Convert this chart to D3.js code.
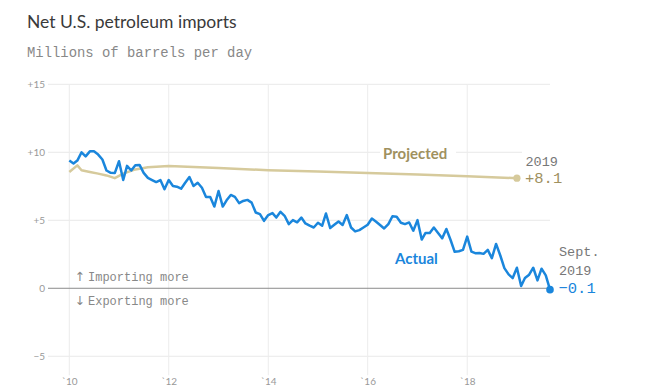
<!DOCTYPE html>
<html>
<head>
<meta charset="utf-8">
<script src="https://cdn.jsdelivr.net/npm/d3@7"></script>
<style>
  html, body { margin: 0; padding: 0; background: #fff; }
  svg { display: block; }
</style>
</head>
<body>
<svg id="chart" width="645" height="391"></svg>
<script>
// ---- Data ----
const actualStart = [2010, 1]; // first month of the actual series (monthly)
const actualValues = [
  9.39, 9.17, 9.39, 10.0, 9.7, 10.07, 10.07, 9.83, 9.47, 8.66, 8.49, 8.47,
  9.34, 7.96, 9.0, 8.66, 9.05, 9.07, 8.49, 8.12, 7.96, 7.81, 7.96, 7.28,
  7.96, 7.52, 7.47, 7.32, 7.76, 8.18, 7.52, 7.76, 7.39, 6.72, 6.72, 6.01,
  7.15, 6.01, 6.47, 6.86, 6.72, 6.26, 6.42, 6.5, 6.3, 5.57, 5.45, 4.96,
  5.38, 5.53, 5.2, 5.62, 5.33, 4.72, 5.01, 4.85, 5.2, 4.77, 4.6, 4.47,
  4.82, 4.6, 5.5, 4.43, 4.67, 4.91, 4.65, 5.38, 4.47, 4.18, 4.28, 4.47,
  4.67, 5.13, 4.91, 4.65, 4.4, 4.72, 5.3, 5.26, 4.82, 4.72, 4.84, 4.23,
  5.01, 3.58, 4.07, 4.07, 4.47, 4.07, 3.67, 4.36, 3.55, 2.68, 2.72, 2.82,
  3.8, 2.7, 2.58, 2.6, 2.53, 2.82, 2.21, 3.26, 2.41, 1.48, 1.02, 0.75,
  1.51, 0.17, 0.75, 1.0, 1.51, 0.58, 1.44, 0.95, -0.1
];
const projectedDates = [
  [2010, 1], [2010, 3], [2010, 4], [2010, 6], [2010, 8], [2010, 10], [2010, 12],
  [2011, 2], [2011, 5], [2011, 8], [2012, 1], [2013, 1], [2014, 1], [2015, 1],
  [2016, 1], [2017, 1], [2018, 1], [2019, 1]
];
const projectedValues = [
  8.55, 9.04, 8.68, 8.55, 8.43, 8.3, 8.1,
  8.43, 8.74, 8.9, 9.0, 8.85, 8.68, 8.58,
  8.48, 8.37, 8.23, 8.1
];
const yTicks = [15, 10, 5, 0, -5];
const yTickLabels = ["+15", "+10", "+5", "0", "\u22125"];
const xTickYears = [2010, 2012, 2014, 2016, 2018];
const xTickLabels = ["`10", "`12", "`14", "`16", "`18"];

// ---- Build series ----
const actual = actualValues.map((v, i) => ({
  date: new Date(actualStart[0], actualStart[1] - 1 + i, 1), value: v
}));
const projected = projectedDates.map((d, i) => ({
  date: new Date(d[0], d[1] - 1, 1), value: projectedValues[i]
}));

const svg = d3.select("#chart");
const blue = "#1a86dc";
const tan = "#d6ca9c";
const tanText = "#a0915f";
const gray = "#777";
const sans = "Lato, 'Open Sans', sans-serif";
const mono = "'Liberation Mono', 'DejaVu Sans Mono', monospace";

const x = d3.scaleTime()
  .domain([new Date(2010, 0, 1), new Date(2019, 8, 1)])
  .range([69.3, 550]);
const y = d3.scaleLinear().domain([-6.4, 15]).range([375.3, 84.3]);

const gridLeft = 48, gridRight = 550;

// horizontal gridlines
svg.append("g").selectAll("line").data(yTicks.filter(d => d !== 0)).join("line")
  .attr("x1", gridLeft).attr("x2", gridRight)
  .attr("y1", d => y(d)).attr("y2", d => y(d))
  .attr("stroke", "#e9e9e9").attr("stroke-width", 1);

// vertical gridlines
svg.append("g").selectAll("line").data(xTickYears).join("line")
  .attr("x1", d => x(new Date(d, 0, 1))).attr("x2", d => x(new Date(d, 0, 1)))
  .attr("y1", y(15)).attr("y2", y(-6.4))
  .attr("stroke", "#ececec").attr("stroke-width", 1);

// zero line
svg.append("line")
  .attr("x1", gridLeft).attr("x2", gridRight)
  .attr("y1", y(0)).attr("y2", y(0))
  .attr("stroke", "#8a8a8a").attr("stroke-width", 1);

// y axis labels
svg.append("g").selectAll("text").data(yTicks).join("text")
  .attr("x", 45).attr("y", d => y(d)).attr("dy", "0.34em")
  .attr("text-anchor", "end")
  .attr("font-family", sans)
  .attr("font-size", 10).attr("fill", "#999")
  .text((d, i) => yTickLabels[i]);

// x axis labels
svg.append("g").selectAll("text").data(xTickYears).join("text")
  .attr("x", d => x(new Date(d, 0, 1)) + 0.5).attr("y", 385)
  .attr("text-anchor", "middle")
  .attr("font-family", sans)
  .attr("font-size", 10).attr("fill", "#999")
  .text((d, i) => xTickLabels[i]);

// title & subtitle
svg.append("text").attr("x", 27).attr("y", 28)
  .attr("font-family", sans)
  .attr("font-size", 17.5).attr("fill", "#3a3a3a")
  .text("Net U.S. petroleum imports");
svg.append("text").attr("x", 27).attr("y", 56.5)
  .attr("font-family", mono)
  .attr("font-size", 13.9).attr("fill", "#888")
  .text("Millions of barrels per day");

// lines
const line = d3.line().x(d => x(d.date)).y(d => y(d.value)).curve(d3.curveLinear);

svg.append("path").datum(projected)
  .attr("d", line).attr("fill", "none")
  .attr("stroke", tan).attr("stroke-width", 2.5)
  .attr("stroke-linejoin", "round");

svg.append("path").datum(actual)
  .attr("d", line).attr("fill", "none")
  .attr("stroke", blue).attr("stroke-width", 2.5)
  .attr("stroke-linejoin", "round");

// end dots
const pEnd = projected[projected.length - 1];
const aEnd = actual[actual.length - 1];
svg.append("circle").attr("cx", x(pEnd.date)).attr("cy", y(pEnd.value))
  .attr("r", 3.6).attr("fill", tan);
svg.append("circle").attr("cx", x(aEnd.date)).attr("cy", y(aEnd.value))
  .attr("r", 3.8).attr("fill", blue);

// "Projected" label with white background
const projLabel = svg.append("g");
projLabel.append("rect").attr("x", 380).attr("y", 144).attr("width", 76).attr("height", 20)
  .attr("fill", "#fff");
projLabel.append("text").attr("x", 383).attr("y", 158.5)
  .attr("font-family", sans)
  .attr("font-weight", "bold")
  .attr("font-size", 15).attr("fill", tanText)
  .text("Projected");

// "Actual" label
svg.append("text").attr("x", 395).attr("y", 264)
  .attr("font-family", sans)
  .attr("font-weight", "bold")
  .attr("font-size", 15).attr("fill", blue)
  .text("Actual");

// projected end label
svg.append("rect").attr("x", 522).attr("y", 150).attr("width", 46).attr("height", 38).attr("fill", "#fff");
svg.append("text").attr("x", 525.5).attr("y", 165.5)
  .attr("font-family", mono).attr("font-size", 13.5).attr("fill", gray)
  .text("2019");
svg.append("text").attr("x", 525).attr("y", 183)
  .attr("font-family", mono).attr("font-size", 15.5).attr("fill", tanText)
  .text("+" + pEnd.value.toFixed(1));

// actual end label
svg.append("text").attr("x", 559).attr("y", 255.5)
  .attr("font-family", mono).attr("font-size", 13.5).attr("fill", gray)
  .text("Sept.");
svg.append("text").attr("x", 559).attr("y", 274.5)
  .attr("font-family", mono).attr("font-size", 13.5).attr("fill", gray)
  .text("2019");
svg.append("text").attr("x", 558.5).attr("y", 292.5)
  .attr("font-family", mono).attr("font-size", 15.5).attr("fill", blue)
  .text("\u2212" + Math.abs(aEnd.value).toFixed(1));

// importing / exporting annotations
const imp = svg.append("text").attr("x", 74.5).attr("y", 280.5).attr("fill", "#888");
imp.append("tspan").attr("font-family", "'DejaVu Sans', sans-serif").attr("font-size", 12.5)
  .text("\u2191");
imp.append("tspan").attr("x", 88).attr("font-family", mono).attr("font-size", 12)
  .text("Importing more");
const exp = svg.append("text").attr("x", 74.5).attr("y", 304.5).attr("fill", "#888");
exp.append("tspan").attr("font-family", "'DejaVu Sans', sans-serif").attr("font-size", 12.5)
  .text("\u2193");
exp.append("tspan").attr("x", 88).attr("font-family", mono).attr("font-size", 12)
  .text("Exporting more");
</script>
</body>
</html>
